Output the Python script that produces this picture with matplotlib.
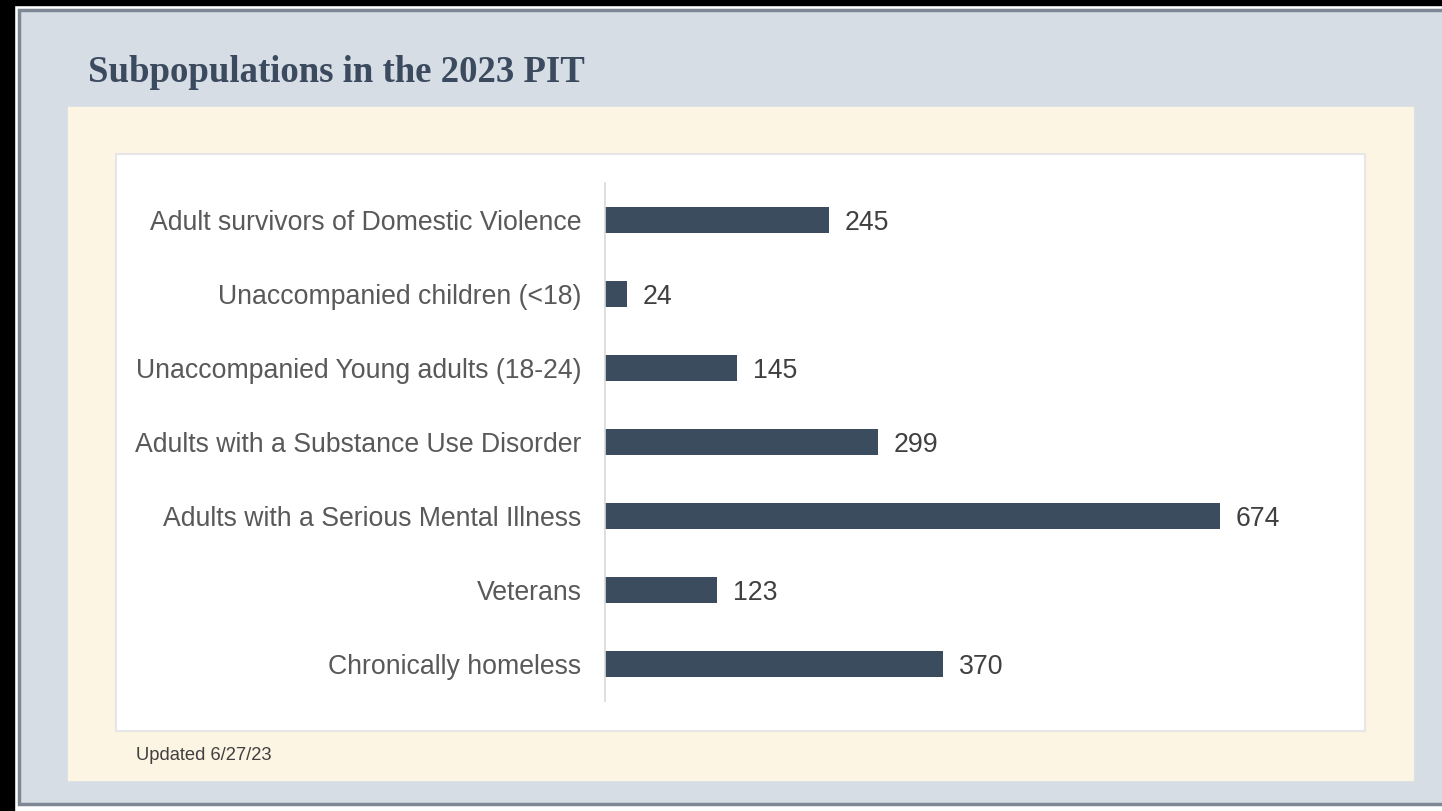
import matplotlib
matplotlib.use("Agg")
import matplotlib.pyplot as plt
from matplotlib.patches import Rectangle

categories = [
    "Adult survivors of Domestic Violence",
    "Unaccompanied children (<18)",
    "Unaccompanied Young adults (18-24)",
    "Adults with a Substance Use Disorder",
    "Adults with a Serious Mental Illness",
    "Veterans",
    "Chronically homeless",
]
counts = [245, 24, 145, 299, 674, 123, 370]
title = "Subpopulations in the 2023 PIT"
note = "Updated 6/27/23"

W, H = 1442, 811
BG = "#d6dde5"
CREAM = "#fdf5e3"
BAR = "#3a4c5e"

fig = plt.figure(figsize=(W / 100, H / 100), dpi=100)
fig.patch.set_facecolor("white")

# page frame drawn in pixel coordinates
bg = fig.add_axes([0, 0, 1, 1])
bg.set_xlim(0, W)
bg.set_ylim(H, 0)
bg.axis("off")
bg.add_patch(Rectangle((0, 0), W, 5, color="black"))
bg.add_patch(Rectangle((0, 0), 14, H, color="black"))
bg.add_patch(Rectangle((19, 10), W, 794, facecolor=BG, edgecolor="#7d8894", lw=2.5))
bg.add_patch(Rectangle((68, 107), 1345, 673, color=CREAM))
bg.add_patch(Rectangle((116, 154), 1249, 577, facecolor="white",
                       edgecolor="#e6e6e6", lw=1.5))
bg.text(88, 73, title, fontsize=26.5, fontweight="bold", color="#3b4a5e",
        family="Liberation Serif", va="center", ha="left")
bg.text(136, 756, note, fontsize=13.2, color="#404040",
        family="Liberation Sans", va="center", ha="left")

# bar chart
ax = fig.add_axes([605 / W, (H - 701) / H, 730 / W, 518 / H])
ax.patch.set_alpha(0)
y = list(range(len(categories)))
bars = ax.barh(y, counts, height=0.35, color=BAR)
ax.set_xlim(0, 800)
ax.set_ylim(len(categories) - 0.5, -0.5)
ax.set_yticks(y)
ax.set_yticklabels(categories, fontsize=19.2, color="#595959",
                   family="Liberation Sans")
ax.tick_params(axis="y", length=0, pad=17)
ax.set_xticks([])
for s in ["top", "right", "bottom"]:
    ax.spines[s].set_visible(False)
ax.spines["left"].set_color("#d9d9d9")
ax.spines["left"].set_linewidth(1.2)
for yi, c in zip(y, counts):
    ax.annotate(str(c), (c, yi), xytext=(11.5, 0), textcoords="offset points",
                va="center_baseline", ha="left", fontsize=19.2, color="#404040",
                family="Liberation Sans")

fig.savefig("out.png", dpi=100)
